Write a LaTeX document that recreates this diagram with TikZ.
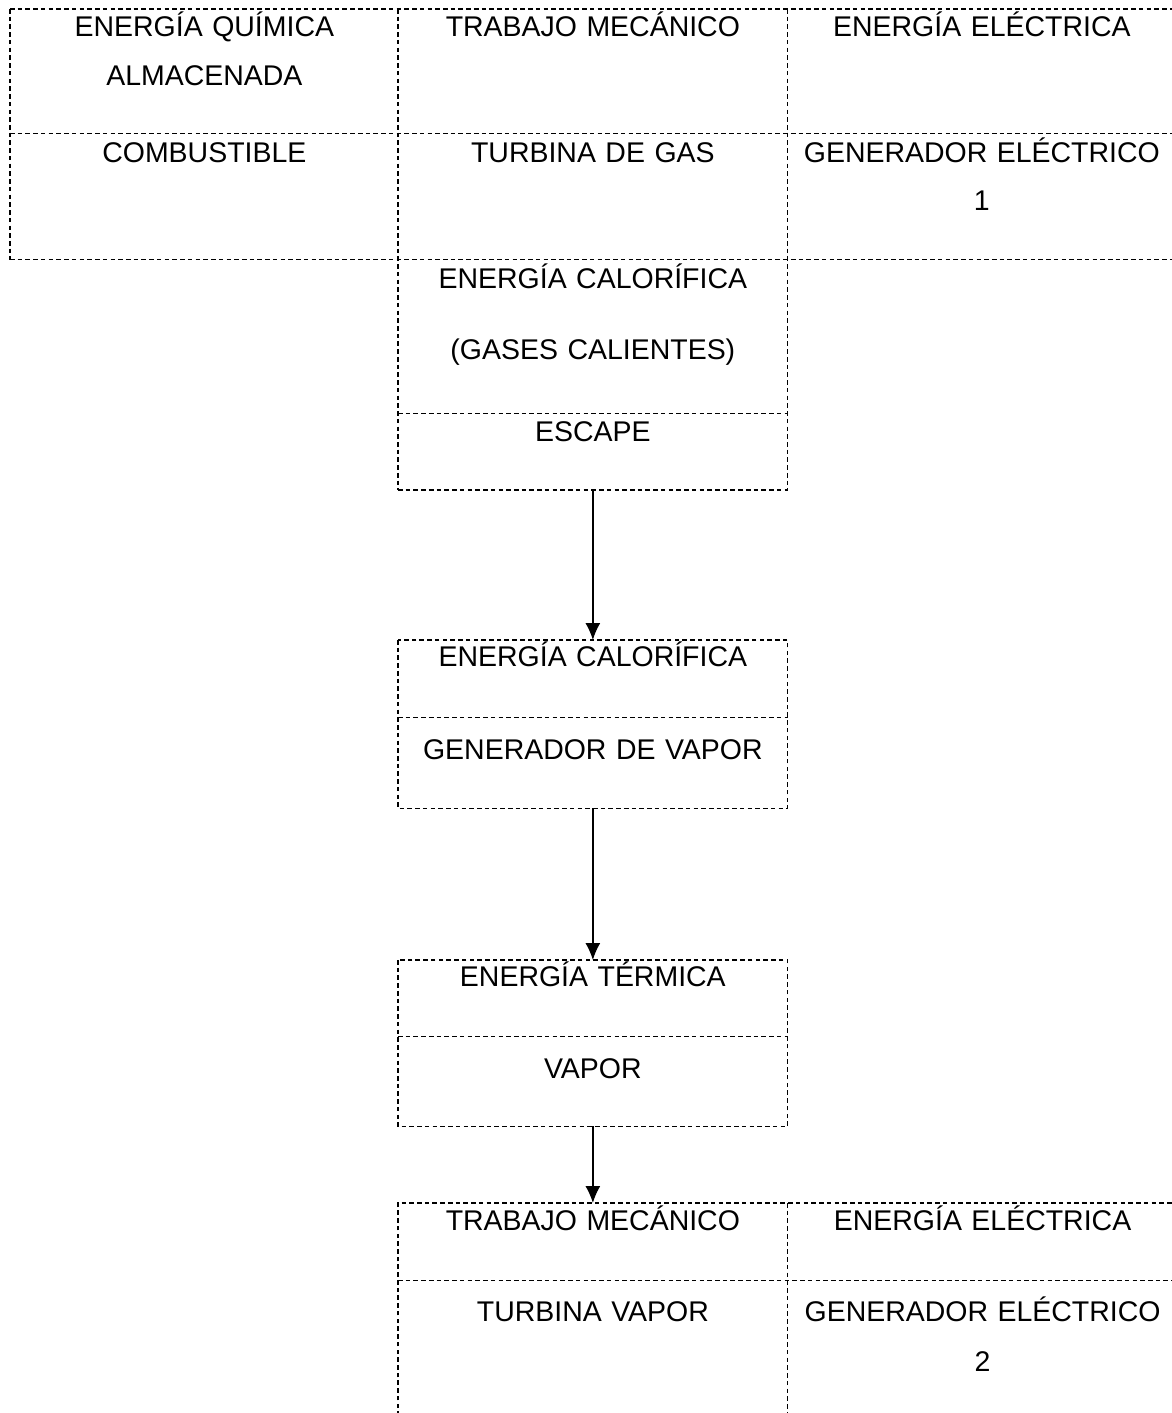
\documentclass[tikz,border=0pt]{standalone}
\usepackage{fontspec}
\setmainfont{Liberation Sans}
\usetikzlibrary{arrows.meta,positioning}

\begin{document}
\begin{tikzpicture}[>=Latex,
  cell/.style={anchor=north west,inner sep=0pt,text width=7.78cm,align=center,
    text height=0.55cm,font=\fontsize{16.2}{27.6}\selectfont},
  grid/.style={line width=0.85pt,dash pattern=on 2.6pt off 1.8pt},
  arr/.style={-{Latex[length=0.34cm,width=0.30cm]},line width=0.75pt}]

\useasboundingbox (0,0) rectangle (23.44,-28.26);

% primera etapa: turbina de gas
\node[cell,text width=7.76cm,text depth=1.93cm] (quim) at (0.20,-0.18)
  {ENERGÍA QUÍMICA\\ALMACENADA};
\node[cell,text depth=1.93cm] (trab1) at (7.96,-0.18) {TRABAJO MECÁNICO};
\node[cell,text depth=1.93cm] (elec1) at (15.74,-0.18) {ENERGÍA ELÉCTRICA};
\node[cell,text width=7.76cm,text height=0.58cm,text depth=1.94cm] (comb) at (0.20,-2.66)
  {COMBUSTIBLE};
\node[cell,text height=0.58cm,text depth=1.94cm] (tgas) at (7.96,-2.66) {TURBINA DE GAS};
\node[cell,text height=0.58cm,text depth=1.94cm] (gen1) at (15.74,-2.66)
  {GENERADOR ELÉCTRICO\\1};
\node[cell,text height=0.56cm,text depth=2.50cm,below=0pt of tgas] (gases)
  {ENERGÍA CALORÍFICA\\[12.8pt](GASES CALIENTES)};
\node[cell,text height=0.56cm,text depth=0.96cm,below=0pt of gases] (esc) {ESCAPE};

% recuperación de calor
\node[cell,text height=0.52cm,text depth=1.02cm] (calor) at (7.96,-12.80) {ENERGÍA CALORÍFICA};
\node[cell,text height=0.82cm,text depth=0.98cm,below=0pt of calor] (genv) {GENERADOR DE VAPOR};
\node[cell,text height=0.52cm,text depth=1.00cm] (term) at (7.96,-19.20) {ENERGÍA TÉRMICA};
\node[cell,text height=0.82cm,text depth=0.96cm,below=0pt of term] (vapor) {VAPOR};

% segunda etapa: turbina de vapor
\node[cell,text height=0.54cm,text depth=1.00cm] (trab2) at (7.96,-24.06) {TRABAJO MECÁNICO};
\node[cell,text height=0.54cm,text depth=1.00cm,right=0pt of trab2] (elec2) {ENERGÍA ELÉCTRICA};
\node[cell,text height=0.80cm,text depth=2.20cm,below=0pt of trab2] (tvap) {TURBINA VAPOR};
\node[cell,text height=0.80cm,text depth=2.20cm,below=0pt of elec2] (gen2)
  {GENERADOR ELÉCTRICO\\[1pt]2};

% bordes punteados
\draw[grid] (quim.north west) -- (elec1.north east);
\draw[grid] (quim.south west) -- (elec1.south east);
\draw[grid] (comb.south west) -- (gen1.south east);
\draw[grid] (quim.north west) -- (comb.south west);
\draw[grid] (trab1.north west) -- (esc.south west);
\draw[grid] (trab1.north east) -- (esc.south east);
\draw[grid] (elec1.north east) -- (gen1.south east);
\draw[grid] (esc.north west) -- (esc.north east);
\draw[grid] (esc.south west) -- (esc.south east);

\draw[grid] (calor.north west) rectangle (genv.south east);
\draw[grid] (calor.south west) -- (calor.south east);
\draw[grid] (term.north west) rectangle (vapor.south east);
\draw[grid] (term.south west) -- (term.south east);

\draw[grid] (tvap.south west) -- (trab2.north west) -- (elec2.north east) -- (gen2.south east);
\draw[grid] (trab2.south west) -- (elec2.south east);
\draw[grid] (trab2.north east) -- (tvap.south east);

% flujo
\draw[arr] (esc) -- (calor);
\draw[arr] (genv) -- (term);
\draw[arr] (vapor) -- (trab2);
\end{tikzpicture}
\end{document}
